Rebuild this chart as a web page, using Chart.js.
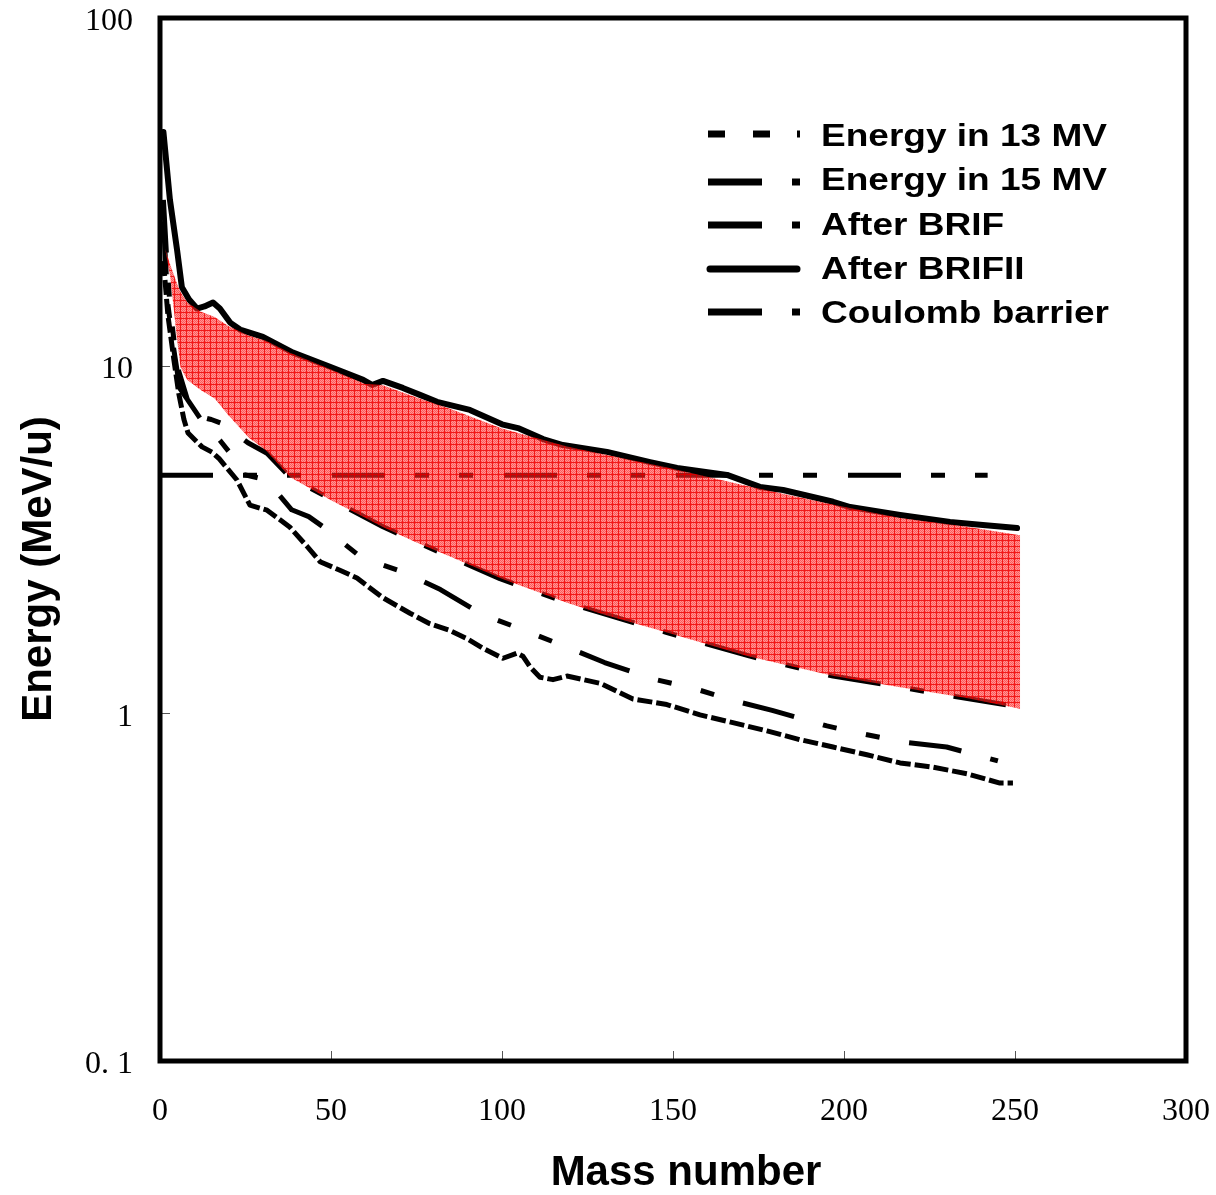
<!DOCTYPE html>
<html><head><meta charset="utf-8">
<script src="https://cdn.jsdelivr.net/npm/chart.js@4.4.0/dist/chart.umd.min.js"></script>
<style>html,body{margin:0;padding:0;background:#fff;}#wrap{width:1216px;height:1195px;}</style>
</head><body><div id="wrap"><canvas id="c" width="1216" height="1195"></canvas></div>
<script>
// ---------- data ----------
const seriesNames = ["Energy in 13 MV", "Energy in 15 MV", "After BRIF", "After BRIFII", "Coulomb barrier"];
const xTickValues = [0, 50, 100, 150, 200, 250, 300];
const xTickLabels = ["0", "50", "100", "150", "200", "250", "300"];
const yTickValues = [0.1, 1, 10, 100];
const yTickLabels = ["0. 1", "1", "10", "100"];
const xTitle = "Mass number";
const yTitle = "Energy (MeV/u)";

const mv13A = [1, 2.3, 4, 5.5, 7, 8.2, 12.3, 15.2, 17.3, 22.5, 26.3, 31.3, 38, 43, 46.8, 52.6, 57.6, 65.2, 73.1, 78.9, 84.8, 89.8, 94.4, 100.3, 104.4, 106.1, 108.2, 111.1, 114.9, 119, 128.7, 138.3, 148.2, 157.9, 167.5, 177.5, 187.1, 196.8, 206.7, 216.4, 226, 236, 245.6, 249.4];
const mv13E = [20, 14, 10.5, 8.3, 7, 6.4, 5.84, 5.64, 5.4, 4.69, 3.97, 3.84, 3.43, 3.02, 2.73, 2.58, 2.45, 2.15, 1.94, 1.81, 1.73, 1.64, 1.54, 1.44, 1.49, 1.46, 1.36, 1.27, 1.25, 1.28, 1.22, 1.10, 1.06, 0.99, 0.94, 0.89, 0.84, 0.80, 0.76, 0.72, 0.70, 0.67, 0.63, 0.63];

const mv15A = [1, 2, 3, 5, 8, 12, 17.5, 20.5, 23, 27, 31, 38.5, 43.5, 47.5, 59, 71, 82, 94, 106, 119, 130, 145, 156, 169, 179, 195, 205, 218, 230, 245];
const mv15E = [30, 20, 14.5, 10, 8, 7, 6.1, 5.6, 4.9, 4.8, 4.7, 3.85, 3.68, 3.45, 2.8, 2.55, 2.27, 1.93, 1.74, 1.55, 1.40, 1.25, 1.18, 1.08, 1.02, 0.92, 0.875, 0.825, 0.80, 0.73];

const brifA = [1, 2.3, 4, 5.8, 8, 11.7, 15, 18.4, 25.7, 31.3, 38, 50.6, 65.2, 84.8, 99.4, 119, 148, 172.5, 196.8, 216.4, 232, 249.5];
const brifE = [26, 15, 11.2, 8.6, 8.0, 7.13, 7.0, 6.8, 6.0, 5.6, 4.78, 4.1, 3.44, 2.82, 2.44, 2.08, 1.71, 1.46, 1.28, 1.19, 1.12, 1.05];

const brif2A = [1, 2.9, 5, 6.4, 8.5, 10.8, 13, 15.5, 17.5, 20.5, 23.4, 30.1, 38.9, 49.7, 59.4, 62, 65.2, 71, 76, 81, 90.6, 100, 105, 112, 117.8, 130.7, 143.3, 151.2, 165.8, 175.4, 182.2, 196.8, 201.8, 216.4, 231, 240.6, 250.6];
const brif2E = [47, 30, 21.5, 16.8, 15.5, 14.6, 14.8, 15.2, 14.6, 13.3, 12.7, 12.1, 10.9, 9.93, 9.1, 8.8, 9.04, 8.63, 8.24, 7.87, 7.46, 6.78, 6.6, 6.15, 5.91, 5.65, 5.28, 5.08, 4.85, 4.48, 4.39, 4.06, 3.92, 3.72, 3.55, 3.48, 3.41];

const coulombA = [0, 242];
const coulombE = [4.84, 4.84];

const bandA = [1.5, 3, 5, 6, 8, 12, 16, 20, 26, 31, 38, 50, 60, 65, 75, 85, 100, 119, 130, 148, 172, 197, 216, 235, 251.5];
const bandHigh = [21.7, 19.5, 17.2, 16.3, 15.2, 14.3, 13.8, 13.0, 12.2, 11.8, 10.9, 9.75, 8.85, 8.8, 8.1, 7.5, 6.6, 5.85, 5.55, 5.1, 4.5, 3.98, 3.65, 3.45, 3.25];
const bandLow = [21.7, 18.0, 11.9, 9.9, 9.1, 8.5, 8.05, 7.2, 6.2, 5.7, 4.78, 4.1, 3.65, 3.44, 3.1, 2.82, 2.44, 2.08, 1.92, 1.71, 1.46, 1.28, 1.19, 1.11, 1.03];

// ---------- helpers ----------
const pts = (xs, ys) => xs.map((x, i) => ({ x: x, y: ys[i] }));

function makePattern(ctx) {
  const c = document.createElement('canvas');
  c.width = 6; c.height = 6;
  const g = c.getContext('2d');
  for (let y = 0; y < 6; y++) {
    for (let x = 0; x < 6; x++) {
      if (x === 0 || y === 0) g.fillStyle = 'rgba(240,0,0,0.9)';
      else if ((x + y) % 2 === 0) g.fillStyle = 'rgba(255,20,20,0.7)';
      else g.fillStyle = 'rgba(255,60,60,0.55)';
      g.fillRect(x, y, 1, 1);
    }
  }
  return ctx.createPattern(c, 'repeat');
}

const canvas = document.getElementById('c');
const ctx0 = canvas.getContext('2d');
const bandPattern = makePattern(ctx0);

const base = { pointRadius: 0, pointHoverRadius: 0, tension: 0, fill: false, borderColor: '#000', borderCapStyle: 'butt', borderJoinStyle: 'round' };

const decor = {
  id: 'decor',
  afterDatasetsDraw(chart) {
    const { ctx, chartArea: a, scales } = chart;
    const xs = scales.x, ys = scales.y;
    ctx.save();
    // inner tick marks
    ctx.strokeStyle = '#555'; ctx.lineWidth = 1;
    xTickValues.slice(1, -1).forEach(v => {
      const px = Math.round(xs.getPixelForValue(v)) + 0.5;
      ctx.beginPath(); ctx.moveTo(px, a.bottom); ctx.lineTo(px, a.bottom - 10); ctx.stroke();
    });
    yTickValues.slice(1, -1).forEach(v => {
      const py = Math.round(ys.getPixelForValue(v)) + 0.5;
      ctx.beginPath(); ctx.moveTo(a.left, py); ctx.lineTo(a.left + 10, py); ctx.stroke();
    });
    // frame
    ctx.strokeStyle = '#000'; ctx.lineWidth = 5; ctx.lineJoin = 'miter';
    ctx.strokeRect(a.left, a.top, a.right - a.left, a.bottom - a.top);

    // legend
    const rowsSample = [134, 182, 225, 269, 312];
    const rowsBase = [146, 190, 235, 279, 323];
    const segs = [
      [[708, 725], [753, 770], [797, 800]],
      [[708, 762], [792, 800]],
      [[708, 762], [792, 800]],
      null,
      [[708, 762], [792, 800]]
    ];
    ctx.strokeStyle = '#000'; ctx.fillStyle = '#000';
    seriesNames.forEach((name, i) => {
      const y = rowsSample[i];
      ctx.lineWidth = 7;
      if (segs[i]) {
        ctx.lineCap = 'butt';
        segs[i].forEach(s => { ctx.beginPath(); ctx.moveTo(s[0], y); ctx.lineTo(s[1], y); ctx.stroke(); });
      } else {
        ctx.lineCap = 'round';
        ctx.beginPath(); ctx.moveTo(710, y); ctx.lineTo(797, y); ctx.stroke();
      }
      ctx.save();
      ctx.translate(821, rowsBase[i]);
      ctx.scale(1.157, 1);
      ctx.font = 'bold 32px "Liberation Sans", Arial, sans-serif';
      ctx.textAlign = 'left'; ctx.textBaseline = 'alphabetic';
      ctx.fillText(name, 0, 0);
      ctx.restore();
    });

    // axis titles
    ctx.font = 'bold 42px "Liberation Sans", Arial, sans-serif';
    ctx.textAlign = 'center'; ctx.textBaseline = 'middle';
    ctx.fillText(xTitle, 686, 1173);
    ctx.save();
    ctx.translate(39, 569); ctx.rotate(-Math.PI / 2);
    ctx.fillText(yTitle, 0, 0);
    ctx.restore();
    ctx.restore();
  }
};

const tickFont = { family: '"Liberation Serif", "Times New Roman", serif', size: 32 };

new Chart(canvas, {
  type: 'line',
  data: {
    datasets: [
      Object.assign({}, base, { label: 'band top', data: pts(bandA, bandHigh), borderWidth: 0, borderColor: 'rgba(0,0,0,0)', fill: 1, backgroundColor: bandPattern }),
      Object.assign({}, base, { label: 'band bottom', data: pts(bandA, bandLow), borderWidth: 0, borderColor: 'rgba(0,0,0,0)' }),
      Object.assign({}, base, { label: seriesNames[3], data: pts(brif2A, brif2E), borderWidth: 6, borderCapStyle: 'round' }),
      Object.assign({}, base, { label: seriesNames[2], data: pts(brifA, brifE), borderWidth: 5, borderDash: [53, 30, 14, 30] }),
      Object.assign({}, base, { label: seriesNames[1], data: pts(mv15A, mv15E), borderWidth: 5, borderDash: [53, 30, 14, 30, 14, 30] }),
      Object.assign({}, base, { label: seriesNames[0], data: pts(mv13A, mv13E), borderWidth: 5, borderDash: [15, 4] }),
      Object.assign({}, base, { label: seriesNames[4], data: pts(coulombA, coulombE), borderWidth: 5, borderDash: [53, 30, 14, 30, 14, 31] })
    ]
  },
  options: {
    responsive: false,
    animation: false,
    devicePixelRatio: 1,
    layout: { padding: { top: 18, right: 30, left: 0, bottom: 0 } },
    plugins: { legend: { display: false }, tooltip: { enabled: false } },
    scales: {
      x: {
        type: 'linear', min: 0, max: 300,
        grid: { display: false, drawTicks: false }, border: { display: false },
        ticks: { stepSize: 50, autoSkip: false, maxRotation: 0, padding: 31, font: tickFont, color: '#000',
          callback: (v) => xTickLabels[xTickValues.indexOf(v)] },
        afterFit: (s) => { s.height = 134; s.paddingLeft = 0; s.paddingRight = 0; }
      },
      y: {
        type: 'logarithmic', min: 0.1, max: 100,
        grid: { display: false, drawTicks: false }, border: { display: false },
        afterBuildTicks: (s) => { s.ticks = yTickValues.map(v => ({ value: v })); },
        ticks: { autoSkip: false, padding: 27, labelOffset: 4, font: tickFont, color: '#000',
          callback: (v) => { const i = yTickValues.findIndex(t => Math.abs(t - v) < 1e-9); return i >= 0 ? yTickLabels[i] : ''; } },
        afterFit: (s) => { s.width = 160; s.paddingTop = 0; s.paddingBottom = 0; }
      }
    }
  },
  plugins: [decor]
});
</script>
</body></html>
